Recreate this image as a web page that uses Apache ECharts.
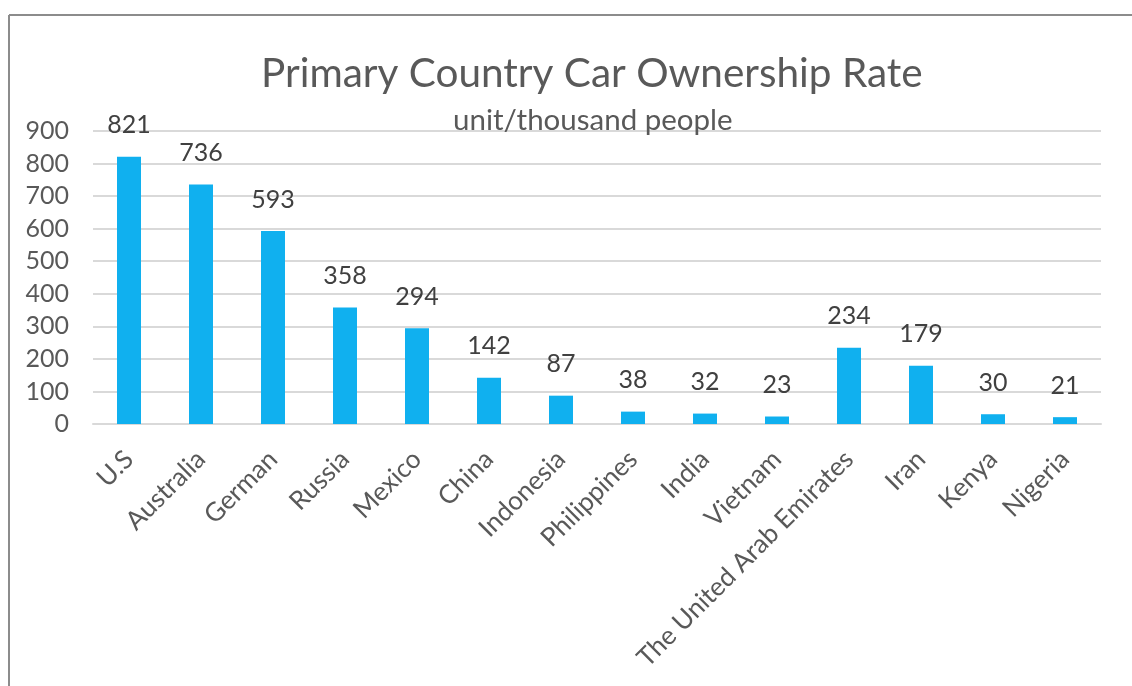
<!DOCTYPE html>
<html><head><meta charset="utf-8">
<script src="https://cdn.jsdelivr.net/npm/echarts@6/dist/echarts.min.js"></script>
<style>html,body{margin:0;padding:0;background:#fff}#c{width:1132px;height:686px}</style>
</head><body><div id="c"></div>
<script>
const categories = ['U.S','Australia','German','Russia','Mexico','China','Indonesia','Philippines','India','Vietnam','The United Arab Emirates','Iran','Kenya','Nigeria'];
const values = [821,736,593,358,294,142,87,38,32,23,234,179,30,21];
const yTicks = {min:0, max:900, interval:100};
const FONT = 'Lato, "Open Sans", sans-serif';
const chart = echarts.init(document.getElementById('c'));
chart.setOption({
  animation:false,
  backgroundColor:'#fff',
  title:[
    {text:'Primary Country Car Ownership Rate', left:256, top:48, textStyle:{fontFamily:FONT, fontSize:40.5, fontWeight:'normal', color:'#595959'}},
    {text:'unit/thousand people', left:448, top:100, textStyle:{fontFamily:FONT, fontSize:29.5, fontWeight:'normal', color:'#595959'}}
  ],
  graphic:[
    {type:'line', shape:{x1:9,y1:15,x2:1132,y2:15}, style:{stroke:'#8c8c8c', lineWidth:2}, silent:true},
    {type:'line', shape:{x1:9,y1:15,x2:9,y2:686}, style:{stroke:'#8c8c8c', lineWidth:2}, silent:true}
  ],
  grid:{left:93, right:31, top:131, bottom:262, containLabel:false},
  xAxis:{type:'category', data:categories,
    axisLine:{lineStyle:{color:'#d9d9d9', width:2}}, axisTick:{show:false},
    axisLabel:{rotate:45, interval:0, margin:31, fontFamily:FONT, fontSize:26, color:'#595959'}},
  yAxis:{type:'value', min:yTicks.min, max:yTicks.max, interval:yTicks.interval,
    axisLine:{show:false}, axisTick:{show:false},
    splitLine:{lineStyle:{color:'#d9d9d9', width:2}},
    axisLabel:{margin:24, fontFamily:FONT, fontSize:25, color:'#595959'}},
  series:[{type:'bar', data:values, barWidth:24,
    itemStyle:{color:'#10B0EF'},
    label:{show:true, position:'top', distance:19, fontFamily:FONT, fontSize:25, color:'#404040'}}]
});
</script></body></html>
